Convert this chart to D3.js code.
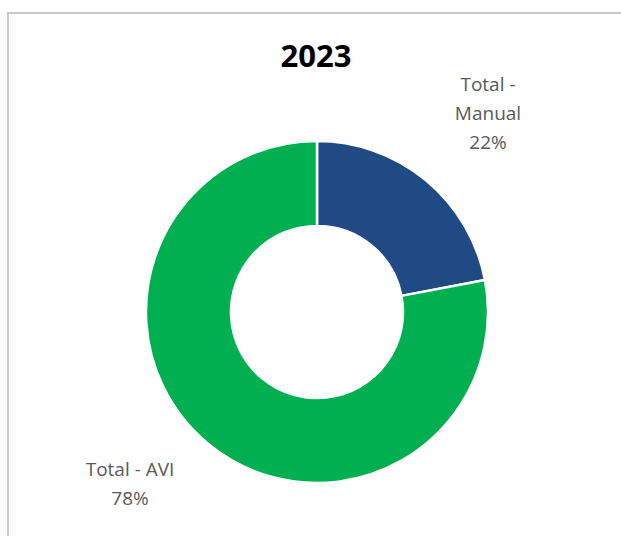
<!DOCTYPE html>
<html>
<head>
<meta charset="utf-8">
<script src="https://cdn.jsdelivr.net/npm/d3@7"></script>
<style>
  html, body { margin: 0; padding: 0; background: #fff; }
  svg { display: block; }
</style>
</head>
<body>
<script>
const title = "2023";
const categories = ["Total - Manual", "Total - AVI"];
const values = [22, 78];
const colors = ["#1f4a84", "#00b050"];

const W = 621, H = 536;
const cx = 317, cy = 312, outerR = 171, innerR = 86;

const svg = d3.select("body").append("svg").attr("width", W).attr("height", H);

// frame
svg.append("rect").attr("x", 8).attr("y", 13).attr("width", W + 20).attr("height", H + 20)
  .attr("fill", "#fff").attr("stroke", "#c9c9c9").attr("stroke-width", 2);

svg.append("text").attr("x", 316).attr("y", 67).attr("text-anchor", "middle")
  .attr("font-family", "'Open Sans', sans-serif").attr("font-weight", 700)
  .attr("font-size", 31).attr("fill", "#000").text(title);

const data = categories.map((c, i) => ({ name: c, value: values[i], color: colors[i] }));
const pie = d3.pie().value(d => d.value).sort(null);
const arc = d3.arc().innerRadius(innerR).outerRadius(outerR);

const g = svg.append("g").attr("transform", `translate(${cx},${cy})`);
g.selectAll("path").data(pie(data)).enter().append("path")
  .attr("d", arc).attr("fill", d => d.data.color)
  .attr("stroke", "#fff").attr("stroke-width", 2.5);

// labels
const pct = d3.format(".0%");
const labelSpecs = [
  { x: 488, y: 91, lines: ["Total -", "Manual"] },
  { x: 130, y: 476, lines: ["Total - AVI"] }
];
const total = d3.sum(values);
data.forEach((d, i) => {
  const spec = labelSpecs[i];
  const lines = spec.lines.concat([pct(d.value / total)]);
  const t = svg.append("text").attr("text-anchor", "middle")
    .attr("font-family", "'Open Sans', sans-serif").attr("font-size", 19)
    .attr("fill", "#595959");
  lines.forEach((l, j) => {
    t.append("tspan").attr("x", spec.x).attr("y", spec.y + j * 29).text(l);
  });
});
</script>
</body>
</html>
